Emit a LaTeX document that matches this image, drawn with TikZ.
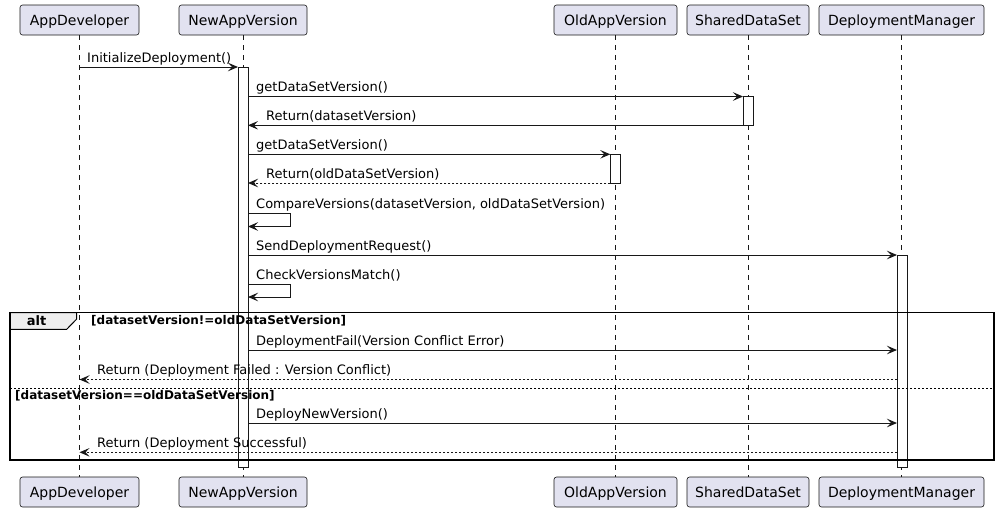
\documentclass[tikz,border=0pt]{standalone}
\usepackage{fontspec}
\setmainfont{DejaVu Sans}
\usetikzlibrary{arrows.meta}
\definecolor{partfill}{HTML}{E2E2F0}
\definecolor{ln}{HTML}{181818}
\definecolor{tabfill}{HTML}{EEEEEE}
\begin{document}
\begin{tikzpicture}[x=1pt,y=-1pt,
  part/.style={draw=ln, fill=partfill, rounded corners=2.5pt, line width=0.6pt,
    minimum height=30pt, inner sep=0pt, text height=11.5pt, text depth=0pt,
    font=\fontsize{14}{16}\selectfont},
  life/.style={draw=ln, line width=0.5pt, dash pattern=on 5pt off 5pt},
  act/.style={draw=ln, fill=white, line width=1pt},
  msg/.style={draw=ln, line width=1pt, -{Stealth[length=10pt,width=8.5pt,inset=4pt]}},
  ret/.style={msg, dash pattern=on 2pt off 2pt},
  lbl/.style={anchor=base west, inner sep=0pt, font=\fontsize{13}{15}\selectfont},
  guard/.style={anchor=west, inner sep=0pt, font=\fontsize{12}{14}\selectfont\bfseries},
  frm/.style={draw=black, line width=1.5pt}
]
\useasboundingbox (0,0) rectangle (1000,512);
% participants
\node[part, minimum width=119pt] (pA) at (79.5,20) {AppDeveloper};
\node[part, minimum width=128pt] (pN) at (243,20) {NewAppVersion};
\node[part, minimum width=123pt] (pO) at (615.5,20) {OldAppVersion};
\node[part, minimum width=122pt] (pS) at (748,20) {SharedDataSet};
\node[part, minimum width=165pt] (pD) at (901.5,20) {DeploymentManager};
\node[part, minimum width=119pt] (qA) at (79.5,492) {AppDeveloper};
\node[part, minimum width=128pt] (qN) at (243,492) {NewAppVersion};
\node[part, minimum width=123pt] (qO) at (615.5,492) {OldAppVersion};
\node[part, minimum width=122pt] (qS) at (748,492) {SharedDataSet};
\node[part, minimum width=165pt] (qD) at (901.5,492) {DeploymentManager};
% lifelines
\draw[life] (pA.south) -- (qA.north);
\draw[life] (pN.south) -- (qN.north);
\draw[life] (pO.south) -- (qO.north);
\draw[life] (pS.south) -- (qS.north);
\draw[life] (pD.south) -- (qD.north);
% activations
\draw[act] (238,67) rectangle (248,467);
\draw[act] (743,96.5) rectangle (753,125.3);
\draw[act] (610.3,154.3) rectangle (620.3,183);
\draw[act] (897,255) rectangle (907,467);
% alt frame
\draw[fill=tabfill, draw=black, line width=1pt] (10,312.5) -- (76.7,312.5) -- (76.7,319) -- (66.7,329.3) -- (10,329.3) -- cycle;
\draw[frm] (10,312.5) rectangle (994,460);
\draw[draw=black, line width=1pt, dash pattern=on 2pt off 2pt] (10,388) -- (994,388);
\node[anchor=base, inner sep=0pt, font=\fontsize{13}{15}\selectfont\bfseries] (altlbl) at (36.5,325) {alt};
\node[guard] (g1) at (91,321) {[datasetVersion!=oldDataSetVersion]};
\node[guard] (g2) at (15,395.5) {[datasetVersion==oldDataSetVersion]};
% message end points
\coordinate (a1) at (79.5,67);   \coordinate (n1) at (238,67);
\coordinate (n2) at (248,96.5);  \coordinate (s2) at (743,96.5);
\coordinate (n3) at (248,125.3); \coordinate (s3) at (743,125.3);
\coordinate (n4) at (248,154.3); \coordinate (o4) at (610.3,154.3);
\coordinate (n5) at (248,183);   \coordinate (o5) at (610.3,183);
\coordinate (n6) at (248,213.3); \coordinate (c6) at (290.7,213.3);
\coordinate (c6b) at (290.7,226.5); \coordinate (n6b) at (248,226.5);
\coordinate (n7) at (248,255);   \coordinate (d7) at (897,255);
\coordinate (n8) at (248,284.5); \coordinate (c8) at (290.7,284.5);
\coordinate (c8b) at (290.7,297); \coordinate (n8b) at (248,297);
\coordinate (n9) at (248,350);   \coordinate (d9) at (897,350);
\coordinate (d10) at (897,379.5); \coordinate (a10) at (79.5,379.5);
\coordinate (n11) at (248,423);  \coordinate (d11) at (897,423);
\coordinate (d12) at (897,452.3); \coordinate (a12) at (79.5,452.3);
% messages
\draw[msg] (a1) -- (n1);
\draw[msg] (n2) -- (s2);
\draw[msg] (s3) -- (n3);
\draw[msg] (n4) -- (o4);
\draw[ret] (o5) -- (n5);
\draw[msg] (n6) -- (c6) -- (c6b) -- (n6b);
\draw[msg] (n7) -- (d7);
\draw[msg] (n8) -- (c8) -- (c8b) -- (n8b);
\draw[msg] (n9) -- (d9);
\draw[ret] (d10) -- (a10);
\draw[msg] (n11) -- (d11);
\draw[ret] (d12) -- (a12);
% labels
\node[lbl] (t1) at (87,62.5) {InitializeDeployment()};
\node[lbl] (t2) at (256,91.8) {getDataSetVersion()};
\node[lbl] (t3) at (266,120.6) {Return(datasetVersion)};
\node[lbl] (t4) at (256,149.6) {getDataSetVersion()};
\node[lbl] (t5) at (266,178.3) {Return(oldDataSetVersion)};
\node[lbl] (t6) at (256,208.6) {CompareVersions(datasetVersion, oldDataSetVersion)};
\node[lbl] (t7) at (256,250.3) {SendDeploymentRequest()};
\node[lbl] (t8) at (256,279.8) {CheckVersionsMatch()};
\node[lbl] (t9) at (256,345.3) {DeploymentFail(Version Conflict Error)};
\node[lbl] (t10) at (97,374.8) {Return (Deployment Failed : Version Conflict)};
\node[lbl] (t11) at (256,418.3) {DeployNewVersion()};
\node[lbl] (t12) at (97,447.6) {Return (Deployment Successful)};
\end{tikzpicture}
\end{document}
